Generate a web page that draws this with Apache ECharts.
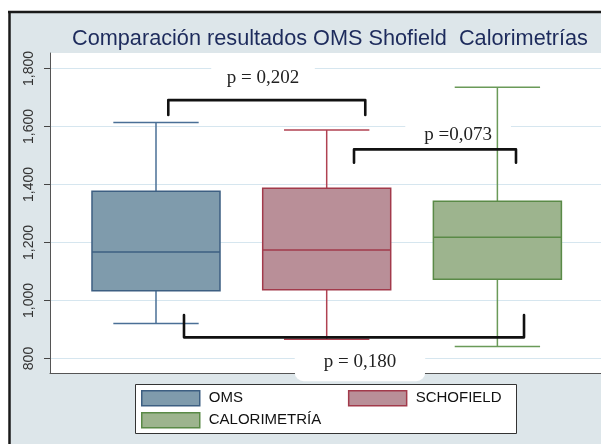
<!DOCTYPE html>
<html><head><meta charset="utf-8">
<script src="https://cdn.jsdelivr.net/npm/echarts@6/dist/echarts.min.js"></script>
<style>html,body{margin:0;padding:0;background:#fff}#c{width:601px;height:444px}</style>
</head><body><div id="c"></div>
<script>
// ---- data ----
const categories = ['OMS', 'SCHOFIELD', 'CALORIMETRÍA'];
const whiskerLow  = [921, 866, 841];
const q1          = [1034, 1037, 1073];
const median      = [1167, 1174, 1218];
const q3          = [1377, 1387, 1342];
const whiskerHigh = [1614, 1588, 1735];
const yTicks = [800, 1000, 1200, 1400, 1600, 1800];
const pLabels = ['p = 0,202', 'p =0,073', 'p = 0,180'];

// ---- annotation layout (data units) ----
const bracketX0   = [0.072, 1.16, 0.164];
const bracketX1   = [1.226, 2.109, 2.156];
const bracketLvl  = [1691, 1521, 873];
const bracketTip  = [1640, 1475, 950];
const labelX      = [0.627, 1.77, 1.195];
const labelY      = [1767, 1571, 789];
const labelPad    = [[7, 16], [8, 19], [10, 29]];

const fills   = ['#7f9bac', '#b98f98', '#9db48e'];
const strokes = ['#3d5f82', '#a23a4b', '#5a8a47'];
const lines   = ['#4a6f96', '#b04252', '#6a9a58'];

function boxSeries(i) {
  return {
    type: 'custom', name: categories[i], xAxisIndex: 1, yAxisIndex: 1, z: 3, silent: true, clip: false,
    data: [[i, whiskerLow[i], q1[i], median[i], q3[i], whiskerHigh[i]]],
    encode: { x: 0, y: [1, 2, 3, 4, 5] },
    renderItem: function (params, api) {
      const x = api.value(0);
      const bw = api.size([0.75, 0])[0];
      const cw = api.size([0.5, 0])[0];
      const c = v => api.coord([x, v]);
      const pL = c(api.value(1)), pQ1 = c(api.value(2)), pM = c(api.value(3)), pQ3 = c(api.value(4)), pH = c(api.value(5));
      const cx = pL[0];
      const ls = { stroke: lines[i], lineWidth: 1.5 };
      return { type: 'group', children: [
        { type: 'line', shape: { x1: cx, y1: pH[1], x2: cx, y2: pQ3[1] }, style: ls },
        { type: 'line', shape: { x1: cx, y1: pQ1[1], x2: cx, y2: pL[1] }, style: ls },
        { type: 'line', shape: { x1: cx - cw / 2, y1: pH[1], x2: cx + cw / 2, y2: pH[1] }, style: ls },
        { type: 'line', shape: { x1: cx - cw / 2, y1: pL[1], x2: cx + cw / 2, y2: pL[1] }, style: ls },
        { type: 'rect', shape: { x: cx - bw / 2, y: pQ3[1], width: bw, height: pQ1[1] - pQ3[1] },
          style: { fill: fills[i], stroke: strokes[i], lineWidth: 1.5 } },
        { type: 'line', shape: { x1: cx - bw / 2, y1: pM[1], x2: cx + bw / 2, y2: pM[1] },
          style: { stroke: strokes[i], lineWidth: 1.5 } }
      ]};
    }
  };
}

const chart = echarts.init(document.getElementById('c'), null, { renderer: 'canvas' });
chart.setOption({
  animation: false,
  backgroundColor: '#dde6ea',
  title: {
    text: 'Comparación resultados OMS Shofield  Calorimetrías',
    left: 67, top: 23,
    textStyle: { fontFamily: 'Liberation Sans', fontSize: 21.7, fontWeight: 'normal', color: '#1d2b5c' }
  },
  graphic: [
    { type: 'rect', shape: { x: 0, y: 0, width: 601, height: 12 }, style: { fill: '#fff' }, silent: true },
    { type: 'rect', shape: { x: 0, y: 0, width: 9, height: 444 }, style: { fill: '#fff' }, silent: true },
    { type: 'line', shape: { x1: 8, y1: 12, x2: 601, y2: 12 }, style: { stroke: '#1a1a1a', lineWidth: 2.5 }, silent: true },
    { type: 'line', shape: { x1: 9.5, y1: 11, x2: 9.5, y2: 444 }, style: { stroke: '#1a1a1a', lineWidth: 2.5 }, silent: true },
    { type: 'rect', z: 1, shape: { x: 135.5, y: 384.5, width: 381, height: 49 }, style: { fill: '#fff', stroke: '#333', lineWidth: 1 }, silent: true }
  ],
  legend: [
    { left: 141, top: 390, padding: 0, orient: 'horizontal', itemWidth: 58, itemHeight: 15, itemGap: 105,
      selectedMode: false, icon: 'rect',
      textStyle: { fontFamily: 'Liberation Sans', fontSize: 15, color: '#111', padding: [0, 0, 0, 4] },
      data: [0, 1].map(i => ({ name: categories[i], itemStyle: { color: fills[i], borderColor: strokes[i], borderWidth: 1.5 } })) },
    { left: 141, top: 412, padding: 0, orient: 'horizontal', itemWidth: 58, itemHeight: 15,
      selectedMode: false, icon: 'rect',
      textStyle: { fontFamily: 'Liberation Sans', fontSize: 15, color: '#111', padding: [0, 0, 0, 4] },
      data: [2].map(i => ({ name: categories[i], itemStyle: { color: fills[i], borderColor: strokes[i], borderWidth: 1.5 } })) }
  ],
  grid: [
    { left: 50, right: 0, top: 53, bottom: 71, show: true, backgroundColor: '#fff', borderWidth: 0 },
    { left: 50, right: 0, top: 68.5, bottom: 85.5 }
  ],
  xAxis: [
    { type: 'value', gridIndex: 0, min: 0, max: 1, axisLine: { show: true, onZero: false, lineStyle: { color: '#555', width: 1 } },
      axisTick: { show: false }, axisLabel: { show: false }, splitLine: { show: false } },
    { type: 'value', gridIndex: 1, min: -0.621, max: 2.607, show: false, axisLine: { onZero: false } }
  ],
  yAxis: [
    { type: 'value', gridIndex: 0, min: 0, max: 1, axisLine: { show: true, onZero: false, lineStyle: { color: '#555', width: 1 } },
      axisTick: { show: false }, axisLabel: { show: false }, splitLine: { show: false } },
    { type: 'value', gridIndex: 1, min: yTicks[0], max: yTicks[yTicks.length - 1], interval: 200, position: 'left',
      axisLine: { show: true, onZero: false, lineStyle: { color: '#555', width: 1 } },
      axisTick: { show: true, inside: false, length: 6, lineStyle: { color: '#444', width: 1 } },
      axisLabel: { rotate: 90, margin: 14, fontFamily: 'Liberation Sans', fontSize: 14, color: '#333',
        formatter: v => v.toLocaleString('en-US') },
      splitLine: { show: true, lineStyle: { color: '#d6e6ef', width: 1.2 } } }
  ],
  series: [
    {
      type: 'custom', xAxisIndex: 1, yAxisIndex: 1, z: 1, silent: true, clip: false,
      data: pLabels.map((t, k) => [labelX[k], labelY[k], k]),
      renderItem: function (params, api) {
        const k = api.value(2);
        const p = api.coord([api.value(0), api.value(1)]);
        return { type: 'text', x: p[0], y: p[1], style: {
          text: pLabels[k], align: 'center', verticalAlign: 'middle',
          font: '19px "Liberation Serif"', fill: '#222',
          backgroundColor: '#fff', padding: labelPad[k], borderRadius: 9 } };
      }
    },
    boxSeries(0), boxSeries(1), boxSeries(2),
    {
      type: 'custom', xAxisIndex: 1, yAxisIndex: 1, z: 5, silent: true, clip: false,
      data: bracketLvl.map((v, k) => [bracketX0[k], bracketX1[k], v, bracketTip[k]]),
      renderItem: function (params, api) {
        const a = api.coord([api.value(0), api.value(2)]);
        const b = api.coord([api.value(1), api.value(2)]);
        const ta = api.coord([api.value(0), api.value(3)]);
        return { type: 'polyline', shape: { points: [[a[0], ta[1]], a, b, [b[0], ta[1]]] },
          style: { stroke: '#111', lineWidth: 2.6, fill: null, lineJoin: 'round', lineCap: 'round' } };
      }
    }
  ]
});
</script>
</body></html>
